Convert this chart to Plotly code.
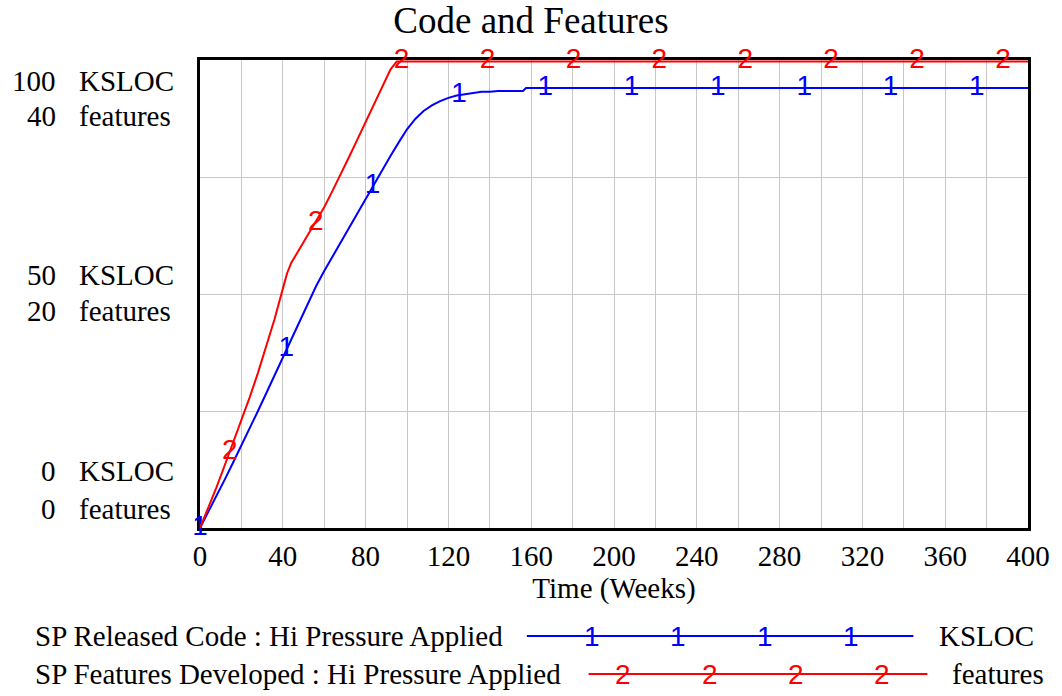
import numpy as np
import plotly.graph_objects as go

# ---- data ----
time_code = [0, 4, 8, 12, 16, 20, 24, 28, 32, 36, 40, 44, 48, 52, 56, 60, 64, 68, 72, 76, 80,
             84, 88, 92, 96, 100, 104, 108, 112, 116, 120, 124, 128, 132, 136, 140, 144,
             156, 157.5, 400]
released_code = [0, 3.4, 6.9, 10.4, 14.0, 17.6, 21.2, 25.0, 28.8, 32.6, 36.5, 40.5, 44.3, 48.0,
                 51.6, 54.9, 58.0, 61.1, 64.2, 67.3, 70.4, 73.5, 76.5, 79.5, 82.4, 85.2, 87.4,
                 89.1, 90.3, 91.2, 91.9, 92.4, 92.7, 92.9, 93.2, 93.2, 93.4, 93.4, 94.0, 94.0]

time_feat = [0, 4, 8, 12, 16, 20, 24, 28, 32, 36, 40, 42, 44, 46, 48, 52, 56, 60, 64, 68, 72,
             76, 80, 84, 88, 92, 95, 400]
features_dev = [0, 1.7, 3.5, 5.4, 7.3, 9.2, 11.2, 13.3, 15.5, 17.9, 20.5, 21.8, 22.7, 23.3,
                23.9, 25.0, 26.2, 27.5, 28.9, 30.3, 31.8, 33.3, 34.8, 36.3, 37.8, 39.3, 40.0,
                40.0]

x_ticks = [0, 40, 80, 120, 160, 200, 240, 280, 320, 360, 400]
code_ticks = [0, 50, 100]
feat_ticks = [0, 20, 40]

series_names = ["SP Released Code : Hi Pressure Applied", "SP Features Developed : Hi Pressure Applied"]
units = ["KSLOC", "features"]

BLUE = "#0000FF"
RED = "#FF0000"
SERIF = "Liberation Serif, Times New Roman, serif"
SANS = "Liberation Sans, Arial, sans-serif"
FS = 29

# label positions along lines (Vensim-style numbered markers)
lab1_t = np.arange(0, 400, 41.7)
lab2_t = np.arange(14.4, 400, 41.5)
lab1_v = np.interp(lab1_t, time_code, released_code)
lab2_v = np.interp(lab2_t, time_feat, features_dev)

W, H = 1062, 696
ML, MR, MT, MB = 200, 31, 60, 168
PW, PH = W - ML - MR, H - MT - MB


def px(xp):
    return (xp - ML) / PW


def py(yp):
    return (H - MB - yp) / PH


fig = go.Figure()
fig.add_trace(go.Scatter(x=time_code, y=released_code, mode="lines",
                         line=dict(color=BLUE, width=2), yaxis="y", showlegend=False))
fig.add_trace(go.Scatter(x=time_feat, y=features_dev, mode="lines",
                         line=dict(color=RED, width=2), yaxis="y2", showlegend=False))
fig.add_trace(go.Scatter(x=lab1_t, y=lab1_v, mode="text", text=["1"] * len(lab1_t),
                         textfont=dict(color=BLUE, size=28, family=SANS),
                         textposition="middle center", cliponaxis=False,
                         yaxis="y", showlegend=False))
fig.add_trace(go.Scatter(x=lab2_t, y=lab2_v, mode="text", text=["2"] * len(lab2_t),
                         textfont=dict(color=RED, size=28, family=SANS),
                         textposition="middle center", cliponaxis=False,
                         yaxis="y2", showlegend=False))

annotations = []
# y-axis labels (two lines per tick)
shifts = {0: (57, 19), 1: (19, -17), 2: (-21, -56)}
for i, (cv, fv) in enumerate(zip(code_ticks, feat_ticks)):
    s1, s2 = shifts[i]
    for num, unit, sh in ((cv, units[0], s1), (fv, units[1], s2)):
        annotations.append(dict(x=px(57), xref="paper", y=cv, yref="y", yshift=sh,
                                xanchor="right", yanchor="middle", showarrow=False,
                                text=str(num), font=dict(family=SERIF, size=FS, color="black")))
        annotations.append(dict(x=px(77), xref="paper", y=cv, yref="y", yshift=sh,
                                xanchor="left", yanchor="middle", showarrow=False,
                                text=unit, font=dict(family=SERIF, size=FS, color="black")))

# custom legend
leg_rows = [
    dict(y=636, x0=528, x1=916, marks=[593, 680, 767, 853], unit_x=940, color=BLUE, digit="1"),
    dict(y=674, x0=590, x1=930, marks=[625, 712, 798, 884], unit_x=953, color=RED, digit="2"),
]
shapes = []
for name, unit, row in zip(series_names, units, leg_rows):
    annotations.append(dict(x=px(32), y=py(row["y"]), xref="paper", yref="paper",
                            xanchor="left", yanchor="middle", showarrow=False, text=name,
                            font=dict(family=SERIF, size=FS, color="black")))
    annotations.append(dict(x=px(row["unit_x"]), y=py(row["y"]), xref="paper", yref="paper",
                            xanchor="left", yanchor="middle", showarrow=False, text=unit,
                            font=dict(family=SERIF, size=FS, color="black")))
    shapes.append(dict(type="line", xref="paper", yref="paper",
                       x0=px(row["x0"]), x1=px(row["x1"]), y0=py(row["y"]), y1=py(row["y"]),
                       line=dict(color=row["color"], width=2)))
    for mx in row["marks"]:
        annotations.append(dict(x=px(mx), y=py(row["y"]), xref="paper", yref="paper",
                                xanchor="center", yanchor="middle", showarrow=False,
                                text=row["digit"],
                                font=dict(family=SANS, size=28, color=row["color"])))

fig.update_layout(
    width=W, height=H, autosize=False,
    margin=dict(l=ML, r=MR, t=MT, b=MB),
    paper_bgcolor="white", plot_bgcolor="white",
    title=dict(text="Code and Features", x=0.5, xanchor="center", y=1 - 20 / H, yanchor="middle",
               font=dict(family=SERIF, size=37, color="black")),
    xaxis=dict(range=[0, 400], tickvals=x_ticks, ticks="", showgrid=True,
               gridcolor="#C8C8C8", gridwidth=1,
               minor=dict(dtick=20, showgrid=True, gridcolor="#C8C8C8", gridwidth=1),
               showline=True, linecolor="black", linewidth=3, mirror=True,
               tickfont=dict(family=SERIF, size=FS, color="black"),
               title=dict(text="Time (Weeks)", font=dict(family=SERIF, size=FS, color="black"),
                          standoff=6),
               zeroline=False, layer="below traces"),
    yaxis=dict(range=[0, 100], dtick=25, showticklabels=False, ticks="", showgrid=True,
               gridcolor="#C8C8C8", gridwidth=1, showline=True, linecolor="black",
               linewidth=3, mirror=True, zeroline=False, layer="below traces"),
    yaxis2=dict(range=[0, 40.12], overlaying="y", side="right", showticklabels=False,
                showgrid=False, zeroline=False, showline=False, ticks=""),
    annotations=annotations,
    shapes=shapes,
    showlegend=False,
)

fig.write_html("out.html", post_script="document.body.style.margin='0';",
               config={"displayModeBar": False})
